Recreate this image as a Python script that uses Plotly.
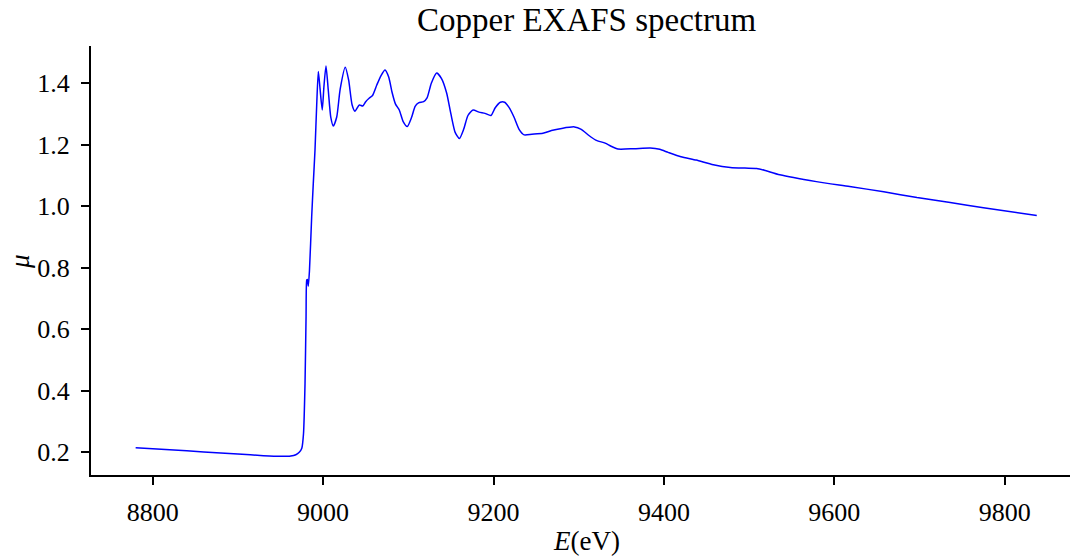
import plotly.graph_objects as go

# Photon energy (eV) and absorption coefficient mu
energy = [8780, 8820, 8860, 8900, 8930, 8950, 8962, 8968, 8972, 8975, 8977,
          8978.8, 8980, 8980.8, 8981.5, 8982.6, 8984, 8986.6, 8988.5, 8990.5,
          8992.5, 8994.4, 8996.5, 8999, 9001, 9003.4, 9006, 9009, 9012, 9016,
          9020, 9026, 9030, 9034, 9037.4, 9042.5, 9046.5, 9050, 9054, 9058,
          9063, 9068, 9072.7, 9077, 9081, 9085, 9089.4, 9094, 9098.8, 9104,
          9108, 9112, 9118, 9122, 9127, 9133.3, 9139, 9145, 9150, 9155, 9160,
          9165, 9170, 9176, 9183, 9190, 9197, 9202, 9208, 9213, 9218, 9224,
          9230, 9236, 9245, 9258, 9268, 9280, 9295, 9303, 9312, 9320, 9331,
          9338, 9346, 9365, 9384, 9395, 9405, 9420, 9438, 9458, 9478, 9495,
          9509, 9519, 9536, 9579, 9618, 9658, 9697, 9736, 9775, 9837.6]
mu = [0.215, 0.208, 0.201, 0.194, 0.189, 0.187, 0.188, 0.192, 0.200, 0.213, 0.260,
      0.424, 0.641, 0.760, 0.762, 0.740, 0.790, 0.966, 1.075, 1.183,
      1.330, 1.438, 1.380, 1.313, 1.390, 1.456, 1.380, 1.290, 1.261, 1.290,
      1.380, 1.452, 1.410, 1.330, 1.309, 1.329, 1.326, 1.340, 1.351, 1.360,
      1.394, 1.425, 1.443, 1.420, 1.370, 1.332, 1.313, 1.275, 1.259, 1.290,
      1.325, 1.336, 1.340, 1.352, 1.400, 1.433, 1.415, 1.368, 1.300, 1.240, 1.220,
      1.250, 1.295, 1.313, 1.306, 1.302, 1.295, 1.320, 1.338, 1.338, 1.322, 1.290,
      1.250, 1.232, 1.234, 1.237, 1.246, 1.253, 1.258, 1.250, 1.230, 1.215, 1.205,
      1.195, 1.186, 1.187, 1.189, 1.185, 1.175, 1.161, 1.150, 1.135, 1.126, 1.124,
      1.123, 1.116, 1.102, 1.080, 1.064, 1.047, 1.028, 1.012, 0.995, 0.970]

x_ticks = [8800, 9000, 9200, 9400, 9600, 9800]
y_ticks = [0.2, 0.4, 0.6, 0.8, 1.0, 1.2, 1.4]

FONT = "Liberation Serif"

fig = go.Figure()
fig.add_trace(go.Scatter(
    x=energy, y=mu, mode="lines",
    line=dict(color="#0000ff", width=1.5, shape="spline", smoothing=0.6),
    showlegend=False, hoverinfo="skip"))

fig.update_layout(
    width=1070, height=556,
    margin=dict(l=91, r=0, t=46, b=81),
    paper_bgcolor="white", plot_bgcolor="white",
    font=dict(family=FONT, color="black", size=26),
    xaxis=dict(range=[8727.6, 9876.6], tickvals=x_ticks,
               ticktext=[str(v) for v in x_ticks],
               showline=True, linecolor="black", linewidth=2,
               ticks="outside", ticklen=8, tickwidth=1.6, tickcolor="black",
               showgrid=False, zeroline=False, ticklabelstandoff=5,
               tickfont=dict(family=FONT, size=26)),
    yaxis=dict(range=[0.126, 1.521], tickvals=y_ticks,
               ticktext=["%.1f" % v for v in y_ticks],
               showline=True, linecolor="black", linewidth=2,
               ticks="outside", ticklen=8, tickwidth=1.6, tickcolor="black",
               showgrid=False, zeroline=False, ticklabelstandoff=6,
               tickfont=dict(family=FONT, size=26)),
    annotations=[
        dict(text="Copper EXAFS spectrum", xref="paper", yref="paper",
             x=(586 - 91) / 979, y=1 + 26 / 429, xanchor="center", yanchor="middle",
             showarrow=False, font=dict(family=FONT, size=33)),
        dict(text="<i>E</i>(eV)", xref="paper", yref="paper",
             x=(586 - 91) / 979, y=-(541 - 475) / 429, xanchor="center", yanchor="middle",
             showarrow=False, font=dict(family=FONT, size=27)),
        dict(text="<i>μ</i>", xref="paper", yref="paper",
             x=-(91 - 20) / 979, y=(475 - 262) / 429, xanchor="center", yanchor="middle",
             textangle=-90, showarrow=False, font=dict(family=FONT, size=27)),
    ],
)

fig.write_html("out.html")
